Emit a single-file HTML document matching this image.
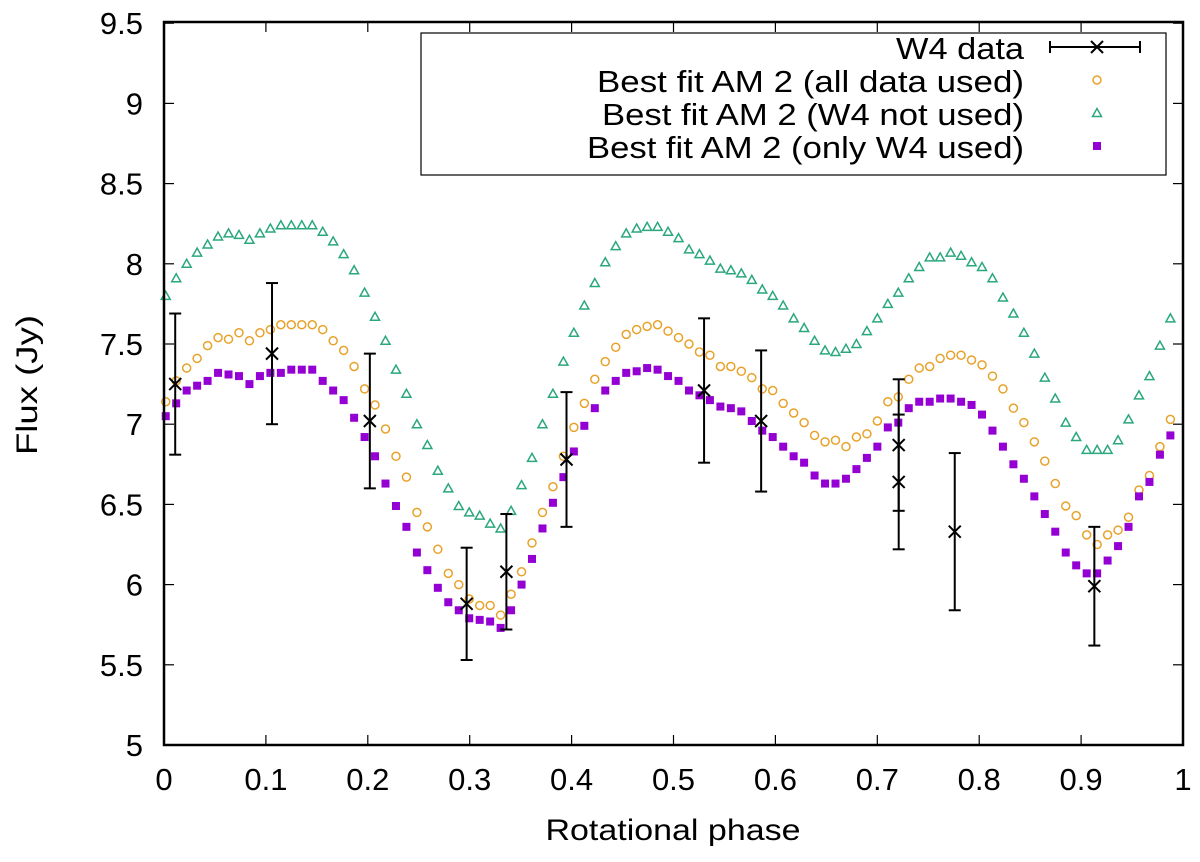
<!DOCTYPE html>
<html><head><meta charset="utf-8"><style>
html,body{margin:0;padding:0;background:#fff;}
svg text{font-family:"Liberation Sans",sans-serif;fill:#000;}
</style></head><body>
<svg id="chart" width="1200" height="857" viewBox="0 0 1200 857" xmlns="http://www.w3.org/2000/svg">
<g id="marks"></g>
<rect x="164" y="22" width="1019" height="723" fill="none" stroke="#000" stroke-width="2.5"/>
<g id="axes"></g>
<text x="673" y="840" font-size="30" text-anchor="middle" textLength="255" lengthAdjust="spacingAndGlyphs">Rotational phase</text>
<text transform="translate(37,385) rotate(-90)" font-size="30" text-anchor="middle" textLength="140" lengthAdjust="spacingAndGlyphs">Flux (Jy)</text>
<g>
<rect x="421" y="33" width="745" height="142" fill="#fff" stroke="#000" stroke-width="1.2"/>
<text x="1024" y="59" font-size="31" text-anchor="end" textLength="128" lengthAdjust="spacingAndGlyphs">W4 data</text>
<text x="1024" y="92" font-size="31" text-anchor="end" textLength="427" lengthAdjust="spacingAndGlyphs">Best fit AM 2 (all data used)</text>
<text x="1024" y="125" font-size="31" text-anchor="end" textLength="422" lengthAdjust="spacingAndGlyphs">Best fit AM 2 (W4 not used)</text>
<text x="1024" y="158" font-size="31" text-anchor="end" textLength="437" lengthAdjust="spacingAndGlyphs">Best fit AM 2 (only W4 used)</text>
<g id="legend-samples"></g>
</g>
</svg>
<script>
const xTicks = [0,0.1,0.2,0.3,0.4,0.5,0.6,0.7,0.8,0.9,1];
const xTickLabels = ["0","0.1","0.2","0.3","0.4","0.5","0.6","0.7","0.8","0.9","1"];
const yTicks = [5,5.5,6,6.5,7,7.5,8,8.5,9,9.5];
const yTickLabels = ["5","5.5","6","6.5","7","7.5","8","8.5","9","9.5"];
const allData = [7.14,7.27,7.35,7.41,7.49,7.54,7.53,7.57,7.52,7.57,7.59,7.62,7.62,7.62,7.62,7.59,7.52,7.46,7.36,7.22,7.12,6.97,6.80,6.67,6.45,6.36,6.22,6.07,6.00,5.91,5.87,5.87,5.81,5.94,6.08,6.26,6.45,6.61,6.80,6.98,7.13,7.28,7.39,7.48,7.56,7.59,7.61,7.62,7.58,7.54,7.50,7.45,7.43,7.36,7.36,7.33,7.29,7.22,7.21,7.13,7.07,7.01,6.93,6.89,6.90,6.86,6.92,6.94,7.02,7.14,7.17,7.28,7.35,7.36,7.41,7.43,7.43,7.40,7.37,7.30,7.22,7.10,7.01,6.89,6.77,6.63,6.49,6.43,6.31,6.25,6.31,6.34,6.42,6.59,6.68,6.86,7.03];
const noW4 = [7.80,7.91,8.00,8.07,8.12,8.17,8.19,8.18,8.15,8.19,8.22,8.24,8.24,8.24,8.24,8.20,8.14,8.06,7.96,7.82,7.67,7.52,7.34,7.19,7.00,6.87,6.71,6.60,6.49,6.45,6.43,6.38,6.35,6.46,6.62,6.79,7.00,7.19,7.39,7.57,7.74,7.88,8.01,8.11,8.19,8.22,8.23,8.23,8.20,8.16,8.09,8.06,8.02,7.97,7.96,7.94,7.90,7.84,7.80,7.74,7.66,7.60,7.52,7.46,7.45,7.47,7.50,7.58,7.66,7.75,7.82,7.91,7.98,8.04,8.04,8.07,8.05,8.01,7.98,7.91,7.79,7.69,7.57,7.44,7.29,7.16,7.01,6.92,6.84,6.84,6.84,6.90,7.03,7.18,7.30,7.49,7.66];
const onlyW4 = [7.05,7.13,7.21,7.24,7.27,7.32,7.31,7.30,7.25,7.30,7.32,7.32,7.34,7.34,7.34,7.27,7.21,7.15,7.04,6.92,6.80,6.63,6.49,6.36,6.20,6.09,5.98,5.89,5.84,5.79,5.78,5.77,5.73,5.84,6.00,6.16,6.35,6.51,6.67,6.83,6.99,7.10,7.21,7.27,7.32,7.33,7.35,7.34,7.30,7.27,7.21,7.18,7.15,7.11,7.10,7.08,7.02,6.96,6.92,6.86,6.80,6.76,6.68,6.63,6.63,6.66,6.72,6.79,6.86,6.98,7.01,7.10,7.14,7.14,7.16,7.16,7.14,7.12,7.06,6.96,6.86,6.75,6.66,6.55,6.44,6.33,6.20,6.12,6.07,6.07,6.15,6.24,6.36,6.55,6.64,6.81,6.93];
const w4Phase = [0.011,0.106,0.202,0.297,0.336,0.395,0.530,0.586,0.721,0.721,0.776,0.913];
const w4Flux = [7.25,7.44,7.02,5.88,6.08,6.78,7.21,7.02,6.87,6.64,6.33,5.99];
const w4Err = [0.44,0.44,0.42,0.35,0.36,0.42,0.45,0.44,0.41,0.42,0.49,0.37];
const modelPhase = allData.map((_, i) => 0.0017 + 0.01027 * i);

const NS = "http://www.w3.org/2000/svg";
const X = p => 164 + p * 1019;
const Y = v => 745 - (v - 5) * 160.4;
function mk(tag, attrs, parent) {
  const e = document.createElementNS(NS, tag);
  for (const k in attrs) e.setAttribute(k, attrs[k]);
  parent.appendChild(e);
  return e;
}
const axes = document.getElementById('axes');
const marks = document.getElementById('marks');
xTicks.forEach((t, i) => {
  const a = mk('line', {x1: X(t), x2: X(t), y1: 745, y2: 735, stroke: '#000', 'stroke-width': 1.2}, axes);
  
  
  const b = mk('line', {x1: X(t), x2: X(t), y1: 22, y2: 32, stroke: '#000', 'stroke-width': 1.2}, axes);
  
  
  const tx = mk('text', {x: X(t), y: 790, 'font-size': 31, 'text-anchor': 'middle'}, axes);
  tx.textContent = xTickLabels[i];
  
  
});
yTicks.forEach((t, i) => {
  const a = mk('line', {x1: 164, x2: 174, y1: Y(t), y2: Y(t), stroke: '#000', 'stroke-width': 1.2}, axes);
  
  
  const b = mk('line', {x1: 1173, x2: 1183, y1: Y(t), y2: Y(t), stroke: '#000', 'stroke-width': 1.2}, axes);
  
  
  const tx = mk('text', {x: 143, y: Y(t) + 11, 'font-size': 31, 'text-anchor': 'end'}, axes);
  tx.textContent = yTickLabels[i];
  
  
});
function circle(x, y, parent) {
  return mk('circle', {cx: x, cy: y, r: 4, fill: 'none', stroke: '#e8a22a', 'stroke-width': 1.5}, parent);
}
function tri(x, y, parent) {
  return mk('polygon', {points: `${x},${y-4.5} ${x-4.5},${y+3.5} ${x+4.5},${y+3.5}`, fill: 'none', stroke: '#2aa77e', 'stroke-width': 1.5}, parent);
}
function sq(x, y, parent) {
  return mk('rect', {x: x - 4, y: y - 4, width: 8, height: 8, fill: '#9400d3'}, parent);
}
modelPhase.forEach((p, i) => {
  const g = tri(X(p), Y(noW4[i]), marks);
  
  
  const o = circle(X(p), Y(allData[i]), marks);
  
  
  const s = sq(X(p), Y(onlyW4[i]), marks);
  
  
});
function cross(x, y, parent) {
  const g = mk('g', {stroke: '#000', 'stroke-width': 2}, parent);
  mk('line', {x1: x - 6, y1: y - 6, x2: x + 6, y2: y + 6}, g);
  mk('line', {x1: x - 6, y1: y + 6, x2: x + 6, y2: y - 6}, g);
  return g;
}
w4Phase.forEach((p, i) => {
  const g = mk('g', {stroke: '#000', 'stroke-width': 2}, marks);
  
  
  const x = X(p), lo = Y(w4Flux[i] - w4Err[i]), hi = Y(w4Flux[i] + w4Err[i]);
  mk('line', {x1: x, x2: x, y1: lo, y2: hi}, g);
  mk('line', {x1: x - 6, x2: x + 6, y1: lo, y2: lo}, g);
  mk('line', {x1: x - 6, x2: x + 6, y1: hi, y2: hi}, g);
  cross(x, Y(w4Flux[i]), g);
});
const ls = document.getElementById('legend-samples');
const lg = mk('g', {stroke: '#000', 'stroke-width': 2}, ls);


mk('line', {x1: 1050, x2: 1140, y1: 47, y2: 47}, lg);
mk('line', {x1: 1050, x2: 1050, y1: 41, y2: 53}, lg);
mk('line', {x1: 1140, x2: 1140, y1: 41, y2: 53}, lg);
cross(1097, 47, lg);
const l1 = circle(1097, 80, ls);


const l2 = tri(1097, 113, ls);


const l3 = sq(1097, 146, ls);


</script>
</body></html>
